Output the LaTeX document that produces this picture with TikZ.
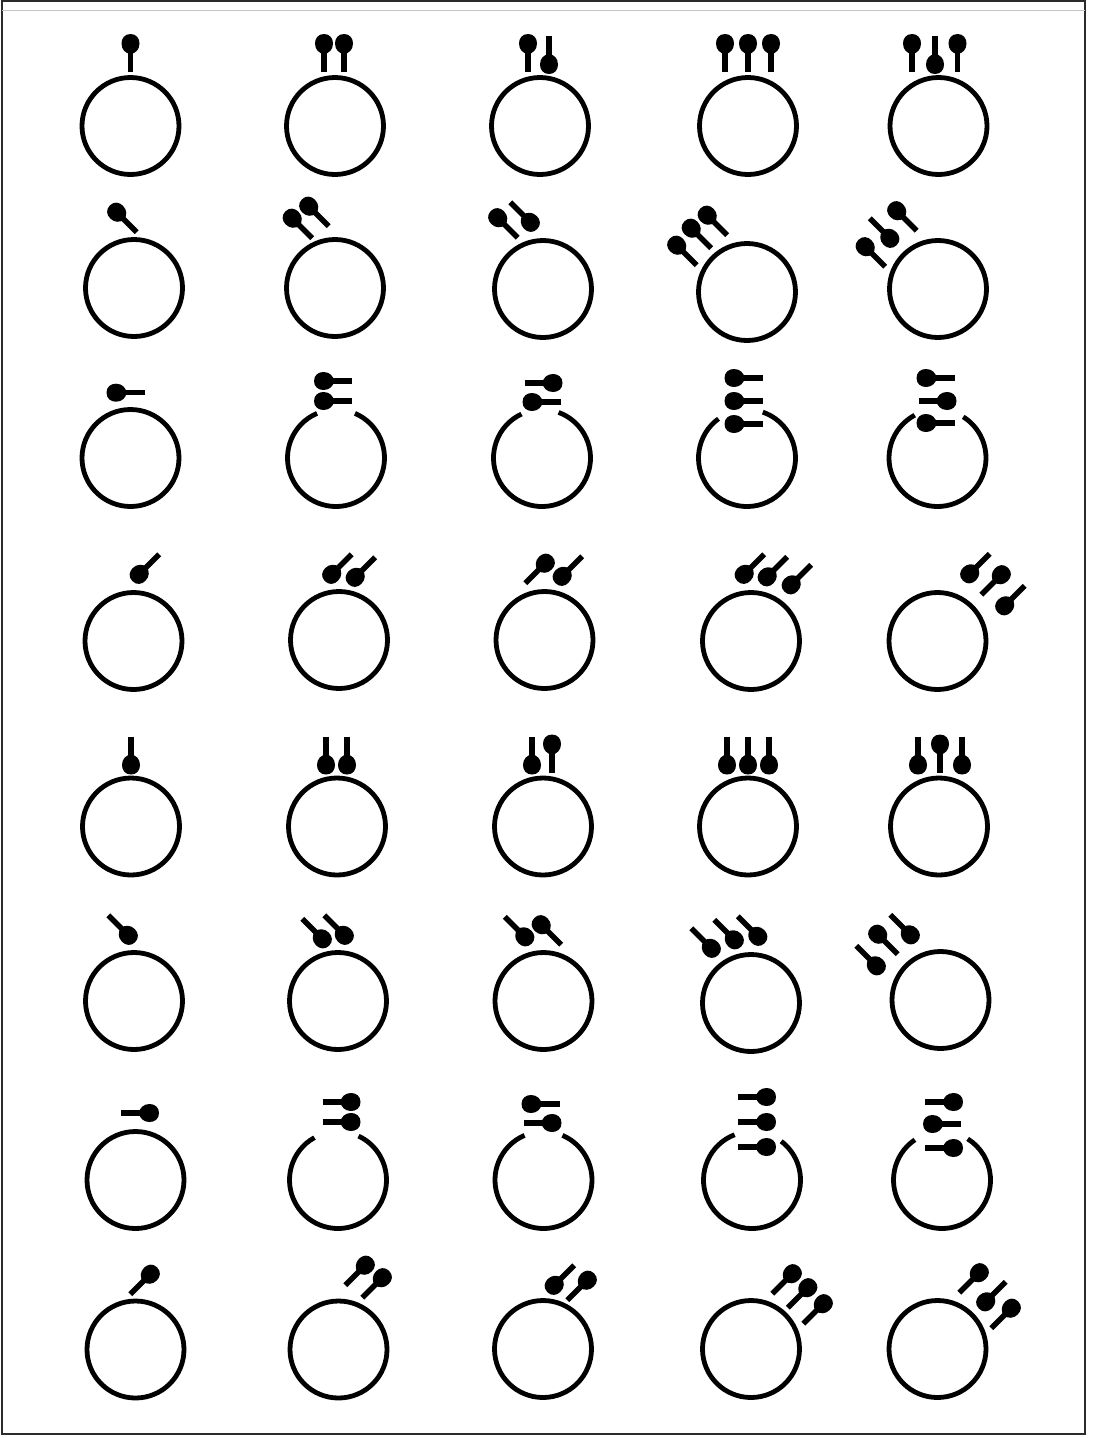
\documentclass[tikz,border=0pt]{standalone}
\usetikzlibrary{calc}
\definecolor{Ink}{HTML}{000000}
\definecolor{Frame}{HTML}{2B2B2B}
\definecolor{Rule}{HTML}{C4C4C4}

\begin{document}
\begin{tikzpicture}[
            x=1pt, y=-1pt,
            ring/.style={draw=Ink, line width=4.8pt},
            stem/.style={draw=Ink, line width=5.4pt},
            frame/.style={draw=Frame, line width=1.6pt},
            tadpole/.pic={
                \draw[stem] (-18,0) -- (3,0);
                \fill[Ink] (20,0) .. controls (20,6) and (15.5,9) .. (10.5,9)
                    .. controls (4.5,9) and (0.5,5) .. (0,0)
                    .. controls (0.5,-5) and (4.5,-9) .. (10.5,-9)
                    .. controls (15.5,-9) and (20,-6) .. (20,0) -- cycle;
            }
        ]
            \useasboundingbox (0,0) rectangle (1093,1438);

            % Page frame
            \draw[frame] (2,1) rectangle (1085,1434);
            \draw[Rule, line width=1pt] (2,10) -- (1085,10);

            % Closed rings
            \foreach \cx/\cy in {130.5/126, 335/126, 540/126, 748/126, 938.5/126,
                                 134/288, 335/288, 543/289, 747/292, 938/289,
                                 130.5/458,
                                 133.5/641, 339/640, 544.5/640, 751/641, 937.5/641,
                                 131/826.5, 337/826.5, 543/826.5, 748/826.5, 939/826.5,
                                 134/1001, 338/1001, 543.5/1001, 751/1003, 940.5/1000,
                                 135.5/1180,
                                 135.5/1349.5, 338.5/1349.5, 543/1349, 751/1349, 937.5/1349}
                \draw[ring] (\cx,\cy) circle[radius=48.5];

            % Open rings (gap at the top)
            \foreach \cx/\cy/\ga/\gb in {336/458/67/113, 542/458/70/115, 747/458/71/126, 937.5/458/58/118,
                                         338/1180/65/119, 543.5/1180/67/113, 752/1180/53/111, 942/1180/58/124}
                \draw[ring] ([shift={(-\gb:48.5)}]\cx,\cy) arc[start angle=-\gb, end angle=-\ga-360, radius=48.5];

            % Row 1: upright
            \foreach \px/\py/\pa in {130.5/54/90, 324/54/90, 344/54/90, 528/54/90, 549/54/270,
                                     725/54/90, 748/54/90, 771/54/90, 912/54/90, 935/54/270, 957.5/54/90}
                \pic[rotate=\pa] at (\px,\py) {tadpole};

            % Row 2: upper left
            \foreach \px/\py/\pa in {124/219.5/135, 299.5/225.5/135, 316/213.5/135, 505/225/135, 523/215/315,
                                     684/252.5/135, 698.5/235.5/135, 714.5/222.5/135,
                                     872.5/254/135, 882.5/231/315, 904/218/135}
                \pic[rotate=\pa] at (\px,\py) {tadpole};

            % Row 3: left
            \foreach \px/\py/\pa in {126.5/392.7/180, 334/381/180, 334/401/180, 542.5/383/0, 542.5/402/180,
                                     744.5/378/180, 744.5/401/180, 744.5/424/180,
                                     936.5/378/180, 936.5/401/0, 936.5/423/180}
                \pic[rotate=\pa] at (\px,\py) {tadpole};

            % Row 4: lower left
            \foreach \px/\py/\pa in {146.5/567/225, 339/567/225, 362.5/570/225, 538/570.5/45, 569.5/569/225,
                                     751.5/567/225, 774.5/569.5/225, 798.5/577.5/225,
                                     977/566.5/225, 994/582/45, 1012/598.5/225}
                \pic[rotate=\pa] at (\px,\py) {tadpole};

            % Row 5: down
            \foreach \px/\py/\pa in {131/754.5/270, 326/754.5/270, 347/754.5/270, 532/754.5/270, 552/754.5/90,
                                     727/754.5/270, 748/754.5/270, 769/754.5/270,
                                     918/754.5/270, 940/754.5/90, 962/754.5/270}
                \pic[rotate=\pa] at (\px,\py) {tadpole};

            % Row 6: lower right
            \foreach \px/\py/\pa in {121/928/315, 315/931.5/315, 337/928/315, 517.5/929.5/315, 548.5/932/135,
                                     704/941/315, 727/932.5/315, 750.5/929/315,
                                     903/927.5/315, 885/941.5/135, 869/958.5/315}
                \pic[rotate=\pa] at (\px,\py) {tadpole};

            % Row 7: right
            \foreach \px/\py/\pa in {139/1113/0, 340.5/1102/0, 340.5/1122/0, 541.5/1104/180, 541.5/1123/0,
                                     756/1097/0, 756/1122/0, 756/1147/0,
                                     943/1102/0, 943/1124/180, 943/1148/0}
                \pic[rotate=\pa] at (\px,\py) {tadpole};

            % Row 8: upper right
            \foreach \px/\py/\pa in {143/1281.5/45, 358/1272.5/45, 375/1285/45, 561.5/1278/225, 580/1287.5/45,
                                     785/1281/45, 800.5/1295/45, 816/1311/45,
                                     972/1280/45, 993/1294.5/225, 1004/1315.5/45}
                \pic[rotate=\pa] at (\px,\py) {tadpole};
        \end{tikzpicture}
\end{document}
